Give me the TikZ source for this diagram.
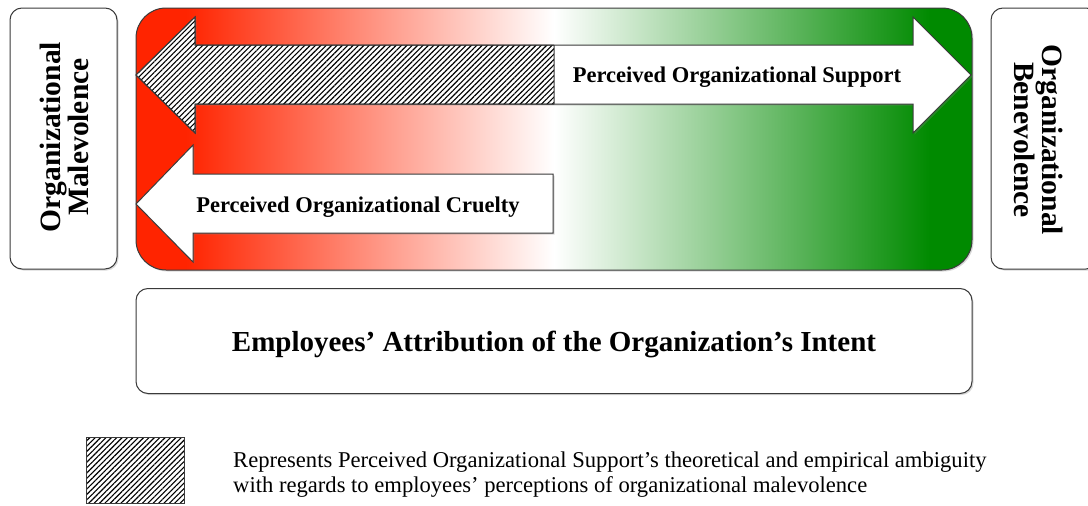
\documentclass[tikz,border=0pt]{standalone}
\usepackage{fontspec}
\setmainfont{Liberation Serif}
\usetikzlibrary{patterns.meta,shadows}
\definecolor{redA}{HTML}{FF2400}
\definecolor{greenA}{HTML}{008A00}
\definecolor{edge}{HTML}{3A3A3A}
\pgfdeclarehorizontalshading{rwg}{100bp}{color(0bp)=(redA); color(28bp)=(redA); color(50bp)=(white); color(72.5bp)=(greenA); color(100bp)=(greenA)}
\tikzset{
  shad/.style={drop shadow={shadow xshift=1.5pt,shadow yshift=-1.5pt,opacity=0.3}},
  box/.style={draw=edge, line width=1pt, fill=white, rounded corners=12pt, shad},
  hatch/.style={pattern={Lines[angle=45,distance=3.8pt,line width=1.1pt]}},
  arrowshape/.style={draw=edge, line width=1pt, fill=white, shad},
  lbl/.style={font=\fontsize{22.5}{27}\selectfont\bfseries, inner sep=0pt},
  side/.style={font=\fontsize{29.5}{26}\selectfont\bfseries, align=center, inner sep=0pt},
}
\begin{document}
\begin{tikzpicture}[x=1pt,y=-1pt]
\useasboundingbox (0,0) rectangle (1088,506);
% side boxes
\node[box, minimum width=107pt, minimum height=261pt, inner sep=0pt] (malbox) at (63.5,138.5) {};
\node[side, rotate=90] (mal) at (64,137) {Organizational\\Malevolence};
\node[box, minimum width=107pt, minimum height=261pt, inner sep=0pt] (benbox) at (1044.5,138.5) {};
\node[side, rotate=-90] (ben) at (1039,140) {Organizational\\Benevolence};
% main gradient box
\node[draw=edge, line width=1pt, shading=rwg, rounded corners=30pt, shad,
      minimum width=836pt, minimum height=262pt, inner sep=0pt] (main) at (554,139) {};
% top double arrow
\draw[arrowshape] (195,45) -- (195,17) -- (136,75) -- (195,133) -- (195,104) -- (913,104)
   -- (913,133) -- (971,75) -- (913,17) -- (913,45) -- cycle;
\fill[hatch] (554,45) -- (195,45) -- (195,17) -- (136,75) -- (195,133) -- (195,104) -- (554,104) -- cycle;
\draw[draw=edge, line width=1pt] (554,45) -- (554,104)
  (554,45) -- (195,45) -- (195,17) -- (136,75) -- (195,133) -- (195,104) -- (554,104);
\node[lbl] (pos) at (737,77.5) {Perceived Organizational Support};
% bottom arrow
\draw[arrowshape] (553,174) -- (193,174) -- (193,145) -- (136,204) -- (193,262) -- (193,233) -- (553,233) -- cycle;
\node[lbl] (poc) at (358,207) {Perceived Organizational Cruelty};
% bottom box
\node[box, minimum width=836pt, minimum height=105pt, inner sep=0pt] (intent) at (554,341) {};
\node[font=\fontsize{29}{34}\selectfont\bfseries, inner sep=0pt] (intentlbl) at (554,344) {Employees’ Attribution of the Organization’s Intent};
% legend
\node[draw=edge, line width=0.8pt, hatch, minimum width=98pt, minimum height=66pt, inner sep=0pt] (legbox) at (135.5,470) {};
\node[anchor=west, align=left, inner sep=0pt, font=\fontsize{22.6}{25}\selectfont] (legtext) at (233,475)
  {Represents Perceived Organizational Support’s theoretical and empirical ambiguity\\with regards to employees’ perceptions of organizational malevolence};
\end{tikzpicture}
\end{document}
